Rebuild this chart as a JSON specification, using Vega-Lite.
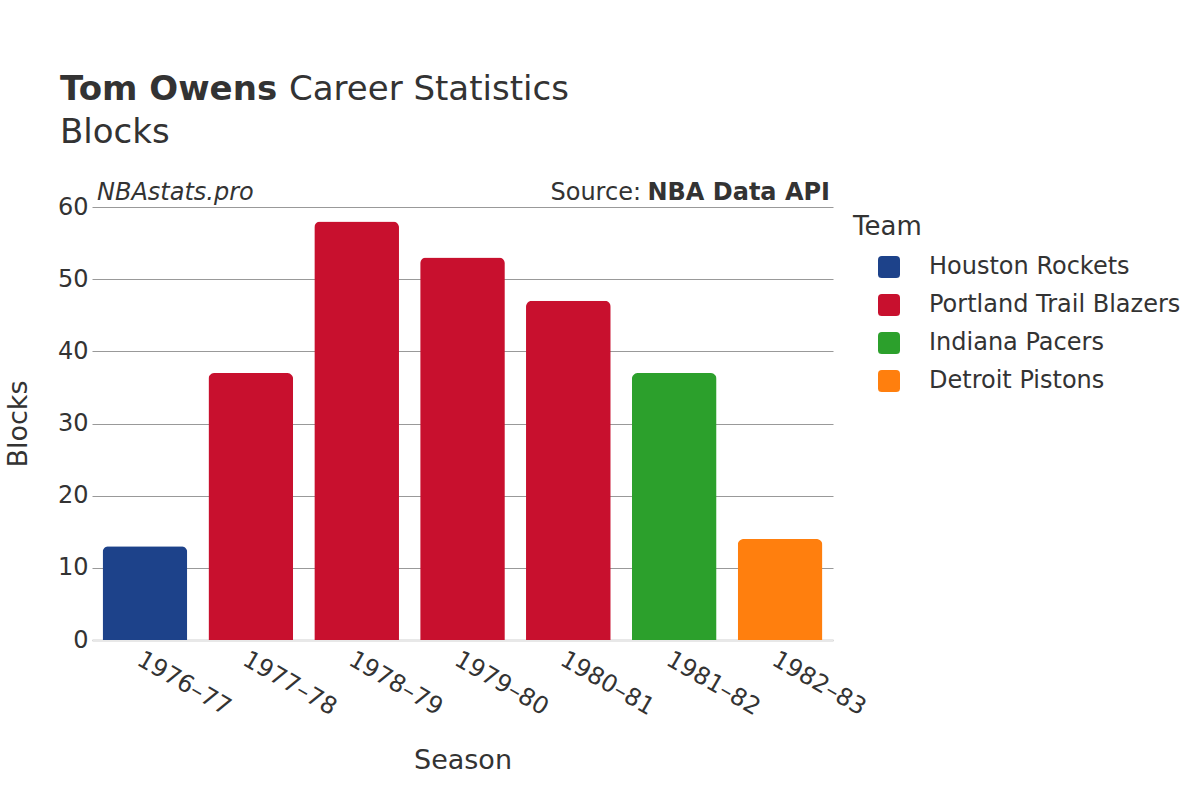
{
  "$schema": "https://vega.github.io/schema/vega-lite/v6.json",
  "width": 741,
  "height": 433,
  "autosize": {"type": "none"},
  "padding": {"left": 92, "top": 207, "right": 367, "bottom": 160},
  "background": "white",
  "config": {
    "font": "DejaVu Sans",
    "view": {"stroke": null}
  },
  "data": {
    "values": [
      {"Season": "1976–77", "Team": "Houston Rockets", "Blocks": 13},
      {"Season": "1977–78", "Team": "Portland Trail Blazers", "Blocks": 37},
      {"Season": "1978–79", "Team": "Portland Trail Blazers", "Blocks": 58},
      {"Season": "1979–80", "Team": "Portland Trail Blazers", "Blocks": 53},
      {"Season": "1980–81", "Team": "Portland Trail Blazers", "Blocks": 47},
      {"Season": "1981–82", "Team": "Indiana Pacers", "Blocks": 37},
      {"Season": "1982–83", "Team": "Detroit Pistons", "Blocks": 14}
    ]
  },
  "layer": [
    {
      "mark": {"type": "bar", "cornerRadiusTopLeft": 6, "cornerRadiusTopRight": 6},
      "encoding": {
        "x": {
          "field": "Season",
          "type": "nominal",
          "sort": null,
          "scale": {"paddingInner": 0.2, "paddingOuter": 0.1},
          "axis": {
            "title": "Season",
            "titleFontSize": 27,
            "titleFontWeight": "normal",
            "titleColor": "#333333",
            "titlePadding": 28,
            "labelFontSize": 24,
            "labelColor": "#333333",
            "labelAngle": 30,
            "labelAlign": "left",
            "labelBaseline": "top",
            "labelPadding": 7,
            "ticks": false,
            "domainColor": "#e8e8e8",
            "domainWidth": 3
          }
        },
        "y": {
          "field": "Blocks",
          "type": "quantitative",
          "scale": {"domain": [0, 60], "nice": false},
          "axis": {
            "title": "Blocks",
            "titleFontSize": 27,
            "titleFontWeight": "normal",
            "titleColor": "#333333",
            "titlePadding": 25,
            "labelFontSize": 24,
            "labelColor": "#333333",
            "labelPadding": 4,
            "values": [0, 10, 20, 30, 40, 50, 60],
            "ticks": false,
            "domain": false,
            "gridColor": "#999999",
            "gridWidth": 1
          }
        },
        "color": {
          "field": "Team",
          "type": "nominal",
          "sort": ["Houston Rockets", "Portland Trail Blazers", "Indiana Pacers", "Detroit Pistons"],
          "scale": {
            "domain": ["Houston Rockets", "Portland Trail Blazers", "Indiana Pacers", "Detroit Pistons"],
            "range": ["#1d428a", "#c8102e", "#2ca02c", "#ff7f0e"]
          },
          "legend": {
            "orient": "none",
            "legendX": 761,
            "legendY": 7,
            "title": "Team",
            "titleFontSize": 26,
            "titleFontWeight": "normal",
            "titleColor": "#333333",
            "titlePadding": 15,
            "labelFontSize": 24,
            "labelColor": "#333333",
            "labelLimit": 400,
            "labelOffset": 28,
            "symbolOffset": 24,
            "symbolSize": 484,
            "symbolType": "M-0.65,-1 L0.65,-1 Q1,-1 1,-0.65 L1,0.65 Q1,1 0.65,1 L-0.65,1 Q-1,1 -1,0.65 L-1,-0.65 Q-1,-1 -0.65,-1 Z",
            "symbolStrokeWidth": 0,
            "rowPadding": 14
          }
        }
      }
    },
    {
      "data": {"values": [{"label": "Tom Owens"}]},
      "mark": {"type": "text", "align": "left", "baseline": "alphabetic", "fontSize": 34, "fontWeight": "bold", "color": "#333333", "font": "DejaVu Sans"},
      "encoding": {"text": {"field": "label"}, "x": {"value": -32}, "y": {"value": -107}}
    },
    {
      "data": {"values": [{"label": "Career Statistics"}]},
      "mark": {"type": "text", "align": "left", "baseline": "alphabetic", "fontSize": 34, "color": "#333333", "font": "DejaVu Sans"},
      "encoding": {"text": {"field": "label"}, "x": {"value": 197}, "y": {"value": -107}}
    },
    {
      "data": {"values": [{"label": "Blocks"}]},
      "mark": {"type": "text", "align": "left", "baseline": "alphabetic", "fontSize": 34, "color": "#333333", "font": "DejaVu Sans"},
      "encoding": {"text": {"field": "label"}, "x": {"value": -32}, "y": {"value": -64}}
    },
    {
      "data": {"values": [{"label": "NBAstats.pro"}]},
      "mark": {"type": "text", "align": "left", "baseline": "alphabetic", "fontSize": 24, "fontStyle": "italic", "color": "#333333", "font": "DejaVu Sans"},
      "encoding": {"text": {"field": "label"}, "x": {"value": 5}, "y": {"value": -7}}
    },
    {
      "data": {"values": [{"label": "NBA Data API"}]},
      "mark": {"type": "text", "align": "right", "baseline": "alphabetic", "fontSize": 24, "fontWeight": "bold", "color": "#333333", "font": "DejaVu Sans"},
      "encoding": {"text": {"field": "label"}, "x": {"value": 738}, "y": {"value": -7}}
    },
    {
      "data": {"values": [{"label": "Source:"}]},
      "mark": {"type": "text", "align": "right", "baseline": "alphabetic", "fontSize": 24, "color": "#333333", "font": "DejaVu Sans"},
      "encoding": {"text": {"field": "label"}, "x": {"value": 549}, "y": {"value": -7}}
    }
  ]
}
